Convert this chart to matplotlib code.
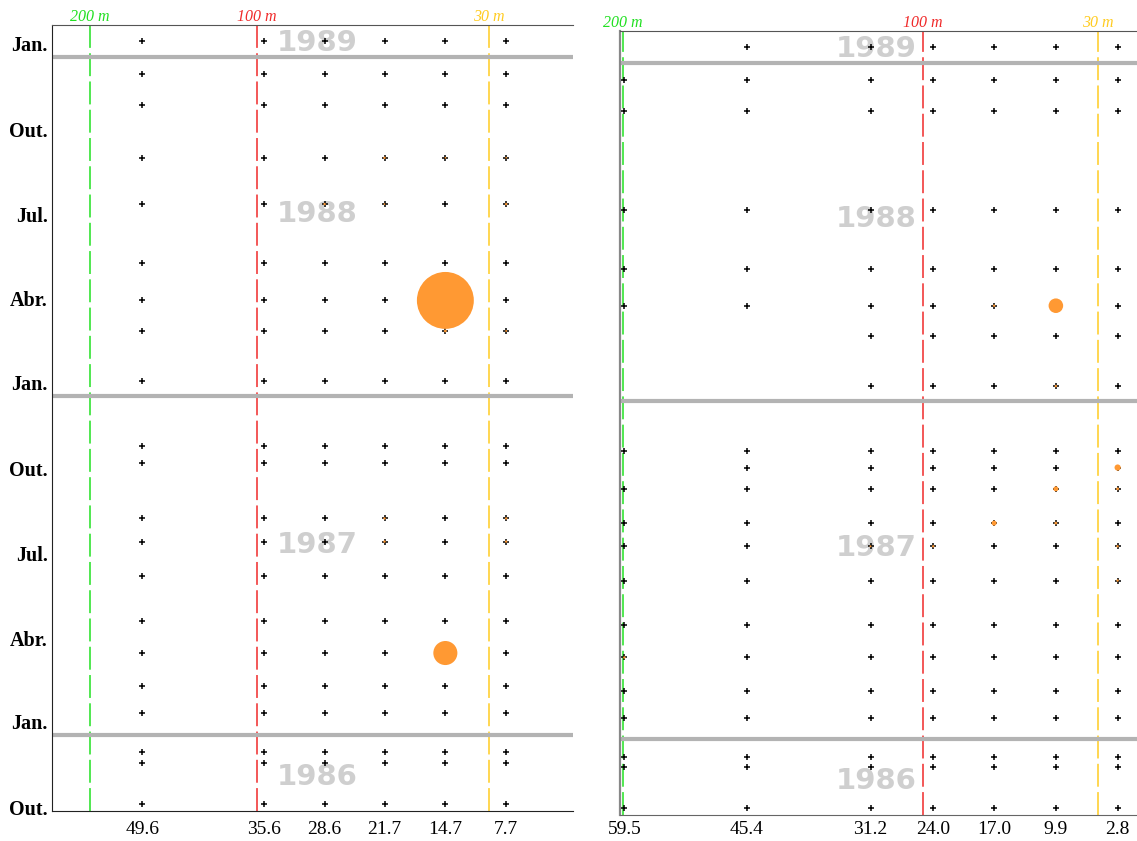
import pandas as pd
import matplotlib.pyplot as plt
from matplotlib.transforms import blended_transform_factory

# cruise dates (both transects)
DATES_A = ["1986-10-18", "1986-12-02", "1986-12-13", "1987-01-24", "1987-02-22",
           "1987-03-30", "1987-05-04", "1987-06-21", "1987-07-28", "1987-08-22",
           "1987-10-21", "1987-11-08", "1988-01-17", "1988-03-11", "1988-04-13",
           "1988-05-23", "1988-07-26", "1988-09-14", "1988-11-10", "1988-12-13",
           "1989-01-18"]
DATES_B = ["1986-10-18", "1986-12-02", "1986-12-13", "1987-01-24", "1987-02-22",
           "1987-03-30", "1987-05-04", "1987-06-21", "1987-07-28", "1987-08-22",
           "1987-09-28", "1987-10-21", "1987-11-08", "1988-01-17", "1988-03-11",
           "1988-04-13", "1988-05-23", "1988-07-26", "1988-11-10", "1988-12-13",
           "1989-01-18"]

STATIONS_A = [49.6, 35.6, 28.6, 21.7, 14.7, 7.7]
STATIONS_B = [59.5, 45.4, 31.2, 24.0, 17.0, 9.9, 2.8]

MISSING_A = []
MISSING_B = [(59.5, "1989-01-18"), (59.5, "1988-03-11"), (59.5, "1988-01-17"),
             (59.5, "1987-10-21"), (45.4, "1988-03-11"), (45.4, "1988-01-17")]

# (station, date, abundance)
CATCH_A = [(14.7, "1988-04-13", 84.0), (14.7, "1987-03-30", 15.0),
           (21.7, "1988-09-14", 0.15), (14.7, "1988-09-14", 0.08),
           (7.7, "1988-09-14", 0.08), (28.6, "1988-07-26", 0.15),
           (21.7, "1988-07-26", 0.08), (7.7, "1988-07-26", 0.15),
           (14.7, "1988-03-11", 0.2), (7.7, "1988-03-11", 0.1),
           (21.7, "1987-08-22", 0.15), (7.7, "1987-08-22", 0.15),
           (21.7, "1987-07-28", 0.15), (7.7, "1987-07-28", 0.15)]
CATCH_B = [(9.9, "1988-04-13", 5.5), (17.0, "1988-04-13", 0.15),
           (9.9, "1988-01-17", 0.15), (2.8, "1987-10-21", 1.0),
           (9.9, "1987-09-28", 0.65), (2.8, "1987-09-28", 0.2),
           (17.0, "1987-08-22", 0.65), (9.9, "1987-08-22", 0.2),
           (31.2, "1987-07-28", 0.1), (24.0, "1987-07-28", 0.15),
           (2.8, "1987-07-28", 0.15), (2.8, "1987-06-21", 0.15),
           (59.5, "1987-03-30", 0.15)]

ISOBATH_LABELS = ["200 m", "100 m", "30 m"]
ISOBATH_COLORS = ["#22e022", "#f02a2a", "#ffcc22"]
ISOBATHS_A = [55.6, 36.4, 9.7]
ISOBATHS_B = [59.7, 25.2, 5.05]

MONTH_TICKS = ["1986-10-15", "1987-01-15", "1987-04-15", "1987-07-15",
               "1987-10-15", "1988-01-15", "1988-04-15", "1988-07-15",
               "1988-10-15", "1989-01-15"]
MONTH_LABELS = ["Out.", "Jan.", "Abr.", "Jul.", "Out.", "Jan.", "Abr.", "Jul.",
                "Out.", "Jan."]
YEARS = [1986, 1987, 1988, 1989]

ORANGE = "#ff9933"
YLIM = (1986.775, 1989.094)


def dec_year(s):
    d = pd.Timestamp(s)
    dias = 366 if d.is_leap_year else 365
    return d.year + (d.dayofyear - 1) / dias


def desenhar_painel(ax, estacoes, datas, faltando, capturas, isobatas, x_ano, y_ano, mostrar_y):

    xs, ys = [], []
    for st in estacoes:
        for dt in datas:
            if (st, dt) in faltando:
                continue
            xs.append(st)
            ys.append(dec_year(dt))
    ax.scatter(xs, ys, marker="+", s=13, c="black", linewidths=1.1, zorder=3)

    cx = [c[0] for c in capturas]
    cy = [dec_year(c[1]) for c in capturas]
    cs = [c[2] * 20 for c in capturas]
    ax.scatter(cx, cy, s=cs, c=ORANGE, linewidths=0, zorder=4)

    for yr in YEARS[1:]:
        ax.axhline(yr, color="#b3b3b3", lw=3, zorder=2)

    trans = blended_transform_factory(ax.transData, ax.transAxes)
    for xv, lab, cor in zip(isobatas, ISOBATH_LABELS, ISOBATH_COLORS):
        ax.axvline(xv, color=cor, lw=1.1, linestyle=(0, (15, 3.5)), zorder=1)
        ax.text(xv, 1.0, lab, transform=trans, ha="center", va="bottom",
                color=cor, fontsize=11.5, style="italic", family="Liberation Serif")

    for yr, yy in zip(YEARS, y_ano):
        ax.text(x_ano, yy, str(yr), ha="center", va="center_baseline", fontsize=21,
                fontweight="bold", color="#cfcfcf", zorder=0.5)

    ax.set_xlim(60, 0)
    ax.set_ylim(*YLIM)
    ax.set_xticks(estacoes)
    ax.set_xticklabels([f"{s:.1f}" for s in estacoes], family="Liberation Serif", fontsize=14)
    if mostrar_y:
        ax.set_yticks([dec_year(m) for m in MONTH_TICKS])
        ax.set_yticklabels(MONTH_LABELS, family="Liberation Serif", fontsize=14.5,
                           fontweight="bold")
    else:
        ax.set_yticks([])
    ax.tick_params(length=0)
    ax.spines["right"].set_visible(False)


def main():

    fig = plt.figure(figsize=(11.37, 8.41), dpi=100)

    ax1 = fig.add_axes([52 / 1137, 30 / 841, 521 / 1137, 786 / 841])
    ax2 = fig.add_axes([620 / 1137, 26 / 841, 522 / 1137, 784 / 841])

    desenhar_painel(ax1, STATIONS_A, DATES_A, MISSING_A, CATCH_A, ISOBATHS_A,
                    29.5, [1986.883, 1987.57, 1988.544, 1989.049], True)
    desenhar_painel(ax2, STATIONS_B, DATES_B, MISSING_B, CATCH_B, ISOBATHS_B,
                    30.6, [1986.884, 1987.574, 1988.548, 1989.049], False)

    ax1.tick_params(axis="x", pad=7)
    ax1.tick_params(axis="y", pad=3)
    ax2.tick_params(axis="x", pad=4)

    for nome in ["left", "bottom"]:
        ax1.spines[nome].set_color("#222222")
    ax1.spines["top"].set_color("#555555")
    ax2.spines["left"].set_color("#888888")
    ax2.spines["left"].set_linewidth(1.6)
    ax2.spines["top"].set_color("#555555")
    ax2.spines["bottom"].set_color("#666666")

    fig.savefig("out.png", dpi=100)


if __name__ == "__main__":
    main()
